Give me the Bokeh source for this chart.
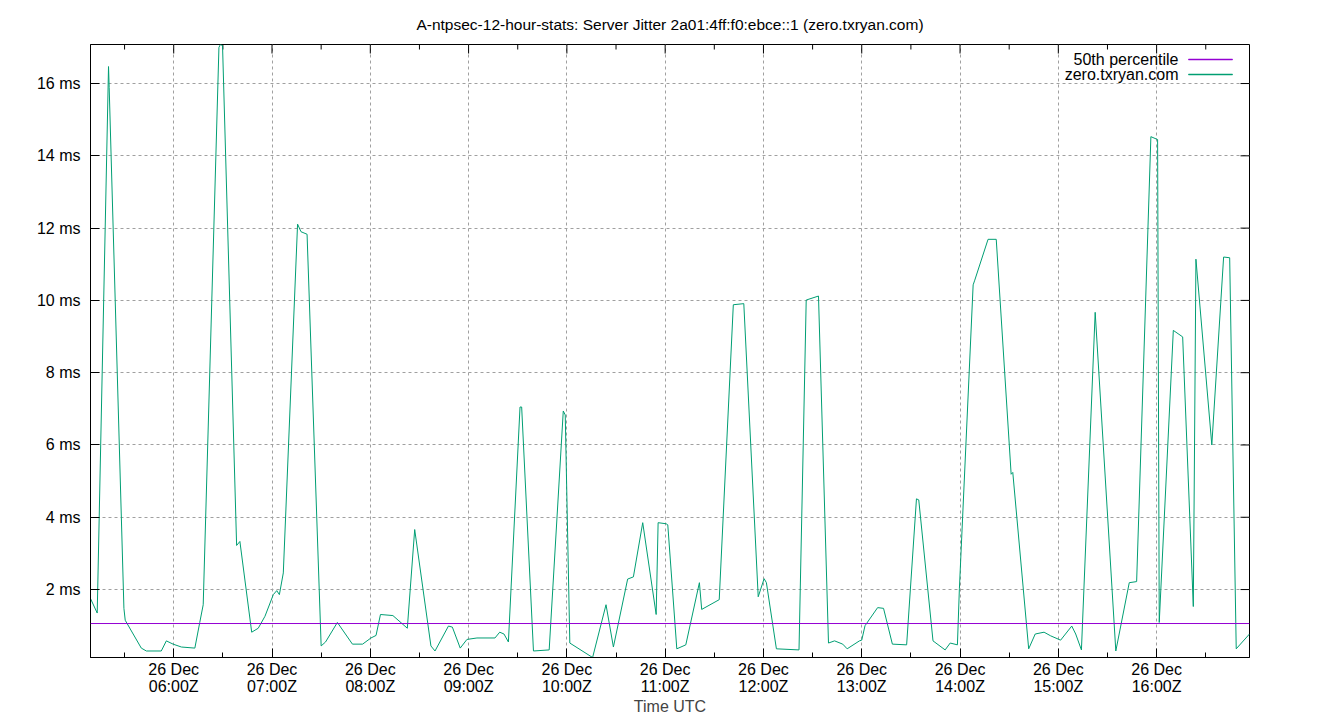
from bokeh.plotting import figure
from bokeh.models import (FixedTicker, Span, Label, BoxAnnotation, Range1d, Title)
from bokeh.embed import file_html
from bokeh.resources import INLINE

# ---- data: minutes after 00:00 UTC on 26 Dec, server jitter in ms ----
t_min = [309.2, 313.3, 320.2, 320.6, 329.6, 330.4, 340.2, 343.3, 352.4, 355.5,
         359.6, 364.7, 372.9, 375.9, 378.0, 387.6, 388.5, 389.8, 398.4, 400.4,
         407.6, 411.6, 415.7, 420.8, 422.9, 424.5, 426.9, 435.6, 437.7, 441.4,
         450.0, 452.7, 459.9, 469.1, 475.3, 480.4, 483.5, 486.2, 493.8, 502.6,
         507.1, 517.0, 519.5, 527.7, 530.1, 534.9, 539.0, 545.1, 556.1, 559.0,
         561.6, 564.3, 571.4, 572.4, 579.6, 589.2, 597.8, 599.0, 601.8, 615.7,
         623.9, 628.4, 637.1, 640.6, 646.3, 654.5, 655.7, 660.6, 661.6, 667.1,
         672.6, 680.9, 682.3, 693.0, 701.6, 708.0, 716.8, 720.4, 721.8, 727.9,
         741.7, 746.1, 753.6, 759.7, 763.4, 768.4, 771.1, 778.6, 780.0, 782.0,
         789.7, 793.3, 798.7, 807.4, 813.4, 814.8, 823.5, 830.9, 834.0, 838.4,
         839.6, 848.0, 849.0, 857.1, 862.1, 871.2, 872.2, 881.9, 885.9, 891.3,
         895.3, 901.4, 908.2, 910.6, 914.1, 922.5, 935.1, 943.3, 947.8, 956.5,
         960.6, 961.6, 970.2, 975.9, 982.4, 984.0, 993.7, 1000.9, 1004.6, 1008.6,
         1016.7]
jitter_ms = [1.75, 1.35, 16.47, 15.89, 1.48, 1.15, 0.38, 0.30, 0.30, 0.58,
             0.49, 0.41, 0.38, 1.09, 1.58, 17.00, 17.08, 17.05, 3.22, 3.33,
             0.82, 0.93, 1.26, 1.86, 1.97, 1.86, 2.46, 12.11, 11.90, 11.83,
             0.44, 0.55, 1.09, 0.49, 0.49, 0.66, 0.73, 1.31, 1.28, 0.93,
             3.66, 0.44, 0.30, 0.99, 0.96, 0.38, 0.62, 0.66, 0.66, 0.82,
             0.77, 0.55, 7.05, 7.05, 0.30, 0.33, 6.94, 6.83, 0.52, 0.12,
             1.58, 0.41, 2.29, 2.35, 3.85, 1.31, 3.85, 3.82, 3.79, 0.36,
             0.47, 2.19, 1.45, 1.72, 9.88, 9.91, 1.80, 2.30, 2.19, 0.36,
             0.33, 10.01, 10.12, 0.52, 0.58, 0.49, 0.36, 0.58, 0.60, 1.00,
             1.50, 1.48, 0.49, 0.47, 4.51, 4.48, 0.58, 0.33, 0.52, 0.47,
             2.02, 10.43, 10.56, 11.69, 11.69, 5.19, 5.24, 0.36, 0.77, 0.82,
             0.72, 0.60, 0.99, 0.77, 0.33, 9.67, 0.30, 2.19, 2.22, 14.53,
             14.45, 1.09, 9.17, 8.99, 1.53, 11.14, 6.00, 11.20, 11.18, 0.36,
             0.77]
median_ms = 1.06

x_major = [360, 420, 480, 540, 600, 660, 720, 780, 840, 900, 960]
x_minor = [330, 390, 450, 510, 570, 630, 690, 750, 810, 870, 930, 990]
x_labels = ["26 Dec\n06:00Z", "26 Dec\n07:00Z", "26 Dec\n08:00Z", "26 Dec\n09:00Z",
            "26 Dec\n10:00Z", "26 Dec\n11:00Z", "26 Dec\n12:00Z", "26 Dec\n13:00Z",
            "26 Dec\n14:00Z", "26 Dec\n15:00Z", "26 Dec\n16:00Z"]
y_major = [2, 4, 6, 8, 10, 12, 14, 16]
y_labels = ["2 ms", "4 ms", "6 ms", "8 ms", "10 ms", "12 ms", "14 ms", "16 ms"]

title_text = "A-ntpsec-12-hour-stats: Server Jitter 2a01:4ff:f0:ebce::1 (zero.txryan.com)"
series_names = ["50th percentile", "zero.txryan.com"]
GREEN = "#009E73"
PURPLE = "#9400D3"
FONT = "Liberation Sans"
FS = "16px"
FS_TITLE = "15.5px"

W, H = 1340, 720
BL, BR, BT, BB = 90, 91, 44, 63
FRAME_W, FRAME_H = W - BL - BR, H - BT - BB

x0, x1 = min(t_min), max(t_min)
y0, y1 = min(jitter_ms), max(jitter_ms)

p = figure(width=W, height=H, output_backend="svg", toolbar_location=None,
           x_range=Range1d(x0, x1), y_range=Range1d(y0, y1),
           min_border_left=BL, min_border_right=BR, min_border_top=BT,
           min_border_bottom=BB, title=None)
p.outline_line_color = "black"
p.outline_line_width = 1
p.background_fill_color = "white"
p.border_fill_color = "white"

p.add_layout(Title(text=title_text, align="center", text_font=FONT,
                   text_font_size=FS_TITLE, text_font_style="normal",
                   text_color="black", standoff=23), "above")

xt = FixedTicker(ticks=x_major, minor_ticks=x_minor)
yt = FixedTicker(ticks=y_major, minor_ticks=[])

xa = p.xaxis[0]
xa.ticker = xt
xa.major_label_overrides = dict(zip(x_major, x_labels))
ya = p.yaxis[0]
ya.ticker = yt
ya.major_label_overrides = dict(zip(y_major, y_labels))

for ax in (xa, ya):
    ax.axis_line_color = "black"
    ax.major_tick_in = 9
    ax.major_tick_out = 0
    ax.minor_tick_in = 5
    ax.minor_tick_out = 0
    ax.major_tick_line_color = "black"
    ax.minor_tick_line_color = "black"
    ax.major_label_text_font = FONT
    ax.major_label_text_font_size = FS
    ax.major_label_text_color = "black"
xa.major_label_standoff = 3
xa.major_label_text_line_height = 1.0
ya.major_label_standoff = 10
xa.axis_label = "Time UTC"
xa.axis_label_text_font = FONT
xa.axis_label_text_font_size = FS
xa.axis_label_text_font_style = "normal"
xa.axis_label_standoff = 0

for g in (p.xgrid[0], p.ygrid[0]):
    g.grid_line_color = "#a0a0a0"
    g.grid_line_dash = "3 3"
    g.grid_line_width = 1
p.xgrid[0].ticker = xt
p.ygrid[0].ticker = yt

# mirrored tick marks on the top and right frame edges (gnuplot style)
ms_per_px = (y1 - y0) / FRAME_H
min_per_px = (x1 - x0) / FRAME_W
p.segment(x0=x_major, y0=[y1] * len(x_major), x1=x_major,
          y1=[y1 - 9 * ms_per_px] * len(x_major), line_color="black", line_width=1)
p.segment(x0=x_minor, y0=[y1] * len(x_minor), x1=x_minor,
          y1=[y1 - 5 * ms_per_px] * len(x_minor), line_color="black", line_width=1)
p.segment(x0=[x1] * len(y_major), y0=y_major, x1=[x1 - 9 * min_per_px] * len(y_major),
          y1=y_major, line_color="black", line_width=1)

p.add_layout(Span(location=median_ms, dimension="width", line_color=PURPLE, line_width=1))
p.line(t_min, jitter_ms, line_color=GREEN, line_width=1)

# legend (gnuplot style: text then sample line), frame-relative screen units
for i, (name, col) in enumerate(zip(series_names, [PURPLE, GREEN])):
    yy = FRAME_H - 15 - 15 * i
    p.add_layout(Label(x=FRAME_W - 71, y=yy, x_units="screen", y_units="screen", text=name,
                       text_align="right", text_baseline="middle", text_font=FONT,
                       text_font_size=FS, text_color="black"))
    p.add_layout(BoxAnnotation(left=FRAME_W - 61, right=FRAME_W - 17, bottom=yy - 0.5,
                               top=yy + 0.5, left_units="screen", right_units="screen",
                               bottom_units="screen", top_units="screen",
                               fill_color=col, fill_alpha=1, line_color=col,
                               line_width=0.5, line_alpha=1))

open("out.html", "w").write(file_html(p, INLINE))
